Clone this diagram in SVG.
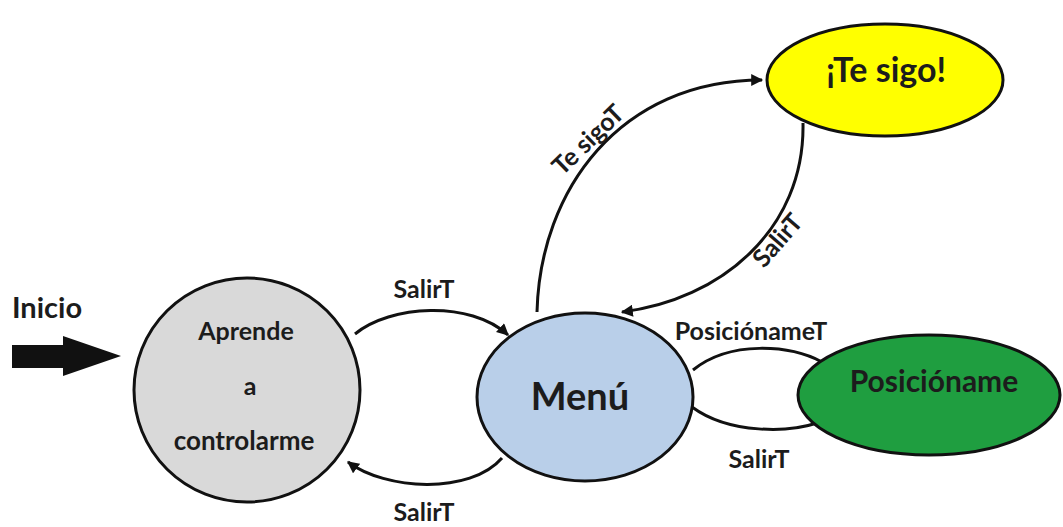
<svg xmlns="http://www.w3.org/2000/svg" width="1063" height="527" viewBox="0 0 1063 527">
  <style>
    text { font-family: Lato, "Liberation Sans", sans-serif; font-weight: bold; fill: #1c1c1c; text-anchor: middle; }
    .node { stroke: #111; stroke-width: 3; }
    .edge { fill: none; stroke: #111; stroke-width: 3; }
    .lbl { font-size: 25px; }
  </style>
  <defs>
    <marker id="arrow" viewBox="0 0 10 10" refX="9" refY="5" markerWidth="4.2" markerHeight="4" markerUnits="strokeWidth" orient="auto">
      <path d="M0,0 L10,5 L0,10 z" fill="#111"/>
    </marker>
  </defs>
  <rect width="1063" height="527" fill="#ffffff"/>

  <!-- start indicator -->
  <g id="inicio">
    <text x="47" y="318" font-size="29">Inicio</text>
    <path d="M12,345 H63 V336 L121,356 L63,376 V368 H12 z" fill="#111"/>
  </g>

  <!-- transitions -->
  <g id="connectors">
    <path class="edge" d="M355,334 C390,305 470,300 508,335" marker-end="url(#arrow)"/>
    <path class="edge" d="M502,458 C470,495 385,490 348,462" marker-end="url(#arrow)"/>
    <path class="edge" d="M537,312 C540,190 620,80 762,80" marker-end="url(#arrow)"/>
    <path class="edge" d="M803,123 C805,230 720,300 622,312" marker-end="url(#arrow)"/>
    <path class="edge" d="M693,370 C730,340 790,345 822,362"/>
    <path class="edge" d="M692,407 C730,435 790,432 817,423"/>
    <text class="lbl" x="424" y="298">SalirT</text>
    <text class="lbl" x="424" y="521">SalirT</text>
    <text class="lbl" x="751" y="340">PosiciónameT</text>
    <text class="lbl" x="759" y="468">SalirT</text>
    <text class="lbl" transform="translate(594,146) rotate(-44)">Te sigoT</text>
    <text class="lbl" transform="translate(784,246) rotate(-49)">SalirT</text>
  </g>

  <g id="aprende">
    <ellipse class="node" cx="247" cy="390" rx="113" ry="112" fill="#d9d9d9"/>
    <text x="246" y="340" font-size="25">Aprende</text>
    <text x="250" y="395" font-size="25">a</text>
    <text x="244" y="450" font-size="26">controlarme</text>
  </g>

  <g id="menu">
    <ellipse class="node" cx="585" cy="397" rx="108" ry="84" fill="#b9cfe9"/>
    <text x="580" y="410" font-size="38">Menú</text>
  </g>

  <g id="tesigo">
    <ellipse class="node" cx="885" cy="80" rx="118" ry="56" fill="#ffff00"/>
    <text x="886" y="82" font-size="34">¡Te sigo!</text>
  </g>

  <g id="posicioname">
    <ellipse class="node" cx="929" cy="395" rx="131" ry="60" fill="#1f9e40"/>
    <text x="934" y="392" font-size="30">Posicióname</text>
  </g>
</svg>
